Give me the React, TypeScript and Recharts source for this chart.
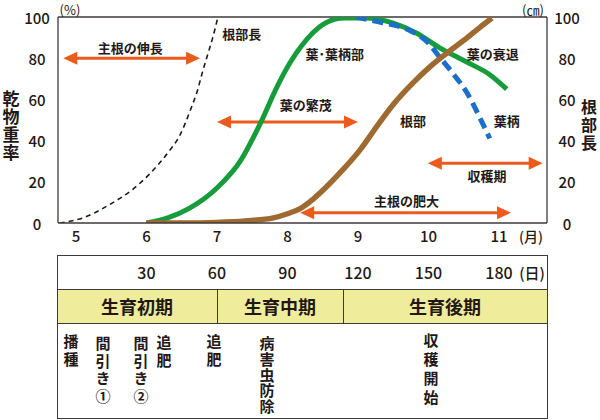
import React from "react";
import { LineChart, Line, XAxis, YAxis, ReferenceLine, ReferenceDot } from "recharts";

const FONT = "'Noto Sans CJK JP', 'Noto Sans', sans-serif";
const INK = "#231815";
const FRAME = "#3e3a39";
const ORANGE = "#eb5b1e";
const YELLOW = "#efec9c";

const monthTicks = [5, 6, 7, 8, 9, 10, 11];
const rateTicks = [0, 20, 40, 60, 80, 100];
const dayTicks = [30, 60, 90, 120, 150, 180];

// 根部長 (cm), right axis
const rootLenMonth = [4.77, 5.1, 5.48, 5.81, 6.05, 6.29, 6.48, 6.62, 6.72, 6.8, 6.87, 6.94, 7.01];
const rootLenValue = [0, 2.5, 9, 16.5, 24, 33.5, 43, 54.6, 64, 74, 82, 90, 99.5];

// 葉・葉柄部 (%)
const leafMonth = [6.0, 6.3, 6.6, 7.0, 7.33, 7.61, 7.85, 8.04, 8.2, 8.35, 8.56, 8.8, 9.1, 9.5, 9.84, 10.16, 10.55, 10.87, 11.11];
const leafValue = [0, 2.5, 7, 17, 30, 48, 66, 78, 86, 92, 97.5, 99.5, 99.5, 97, 92, 85, 78, 72, 65];

// 葉柄 (%)
const petioleMonth = [8.97, 9.31, 9.7, 9.98, 10.16, 10.35, 10.55, 10.73, 10.87];
const petioleValue = [100, 97.5, 94, 88, 80.5, 72.5, 63, 51, 41];

// 根部 (%)
const rootMonth = [6.0, 6.5, 7.0, 7.4, 7.8, 8.0, 8.18, 8.36, 8.55, 8.79, 9.03, 9.27, 9.5, 9.78, 10.06, 10.3, 10.55, 10.73, 10.9];
const rootValue = [0, 0, 0.3, 1, 2.5, 4.5, 7, 11.5, 17.5, 26, 35.5, 47, 57.5, 68, 77, 83.5, 90, 95, 99.5];

// arrows: start month, end month, level
const arrowFrom = [4.82, 7.0, 8.18, 9.99];
const arrowTo = [6.76, 9.0, 11.17, 11.62];
const arrowLevel = [80, 49, 5, 29];

// annotations in chart units
const noteText = ["主根の伸長", "根部長", "葉･葉柄部", "葉の衰退", "葉の繁茂", "根部", "葉柄", "主根の肥大", "収穫期"];
const noteMonth = [5.77, 7.35, 8.67, 10.91, 8.26, 9.78, 11.11, 9.69, 10.83];
const noteLevel = [85.4, 92.2, 82.4, 82.4, 57.6, 49.8, 49.8, 10.7, 22.9];

const pts = (xs: number[], ys: number[]) => xs.map((x, i) => ({ x, y: ys[i] }));

const X_DOMAIN: [number, number] = [4.745, 11.681];
const PLOT_LEFT = 58;
const PLOT_RIGHT = 547;
const monthToPx = (m: number) =>
  PLOT_LEFT + ((m - X_DOMAIN[0]) / (X_DOMAIN[1] - X_DOMAIN[0])) * (PLOT_RIGHT - PLOT_LEFT);

function DoubleArrow(props: any) {
  const { x1, y1, x2, y2 } = props;
  const head = 14;
  const half = 6.5;
  return (
    <g>
      <line x1={x1 + head - 2} y1={y1} x2={x2 - head + 2} y2={y2} stroke={ORANGE} strokeWidth={3} />
      <polygon points={`${x1},${y1} ${x1 + head},${y1 - half} ${x1 + head},${y1 + half}`} fill={ORANGE} />
      <polygon points={`${x2},${y2} ${x2 - head},${y2 - half} ${x2 - head},${y2 + half}`} fill={ORANGE} />
    </g>
  );
}

const MonthTick = ({ x, y, payload }: any) => (
  <text x={x} y={y + 12} textAnchor="middle" dominantBaseline="central" fontSize={15} fontWeight={500} fill={INK} fontFamily={FONT}>
    {payload.value}
  </text>
);

const SideTick = ({ x, y, payload }: any) => (
  <text x={x} y={y} textAnchor="middle" dominantBaseline="central" fontSize={15} fontWeight={500} fill={INK} fontFamily={FONT}>
    {payload.value}
  </text>
);

function Abs({ x, y, children, style }: { x: number; y: number; children: React.ReactNode; style?: React.CSSProperties }) {
  return (
    <div
      style={{
        position: "absolute",
        left: x,
        top: y,
        transform: "translate(-50%, -50%)",
        whiteSpace: "nowrap",
        lineHeight: 1,
        color: INK,
        ...style,
      }}
    >
      {children}
    </div>
  );
}

// vertical text; y is the centre of the first character
function VText({ x, y, step, text, size = 15 }: { x: number; y: number; step: number; text: string; size?: number }) {
  return (
    <div
      style={{
        position: "absolute",
        left: x,
        top: y - size / 2,
        transform: "translateX(-50%)",
        writingMode: "vertical-rl",
        textOrientation: "upright",
        whiteSpace: "nowrap",
        lineHeight: 1,
        fontSize: size,
        fontWeight: 700,
        letterSpacing: step - size,
        color: INK,
      }}
    >
      {text}
    </div>
  );
}

export default function App() {
  return (
    <div style={{ position: "absolute", left: 0, top: 0, width: 600, height: 420, background: "#fff", fontFamily: FONT, overflow: "hidden" }}>
      <div style={{ position: "absolute", left: 0, top: 0 }}>
        <LineChart width={600} height={420} margin={{ top: 17, right: 0, bottom: 0, left: 0 }}>
          <XAxis
            dataKey="x"
            type="number"
            domain={X_DOMAIN}
            allowDataOverflow
            ticks={monthTicks}
            interval={0}
            height={197}
            tickLine={false}
            tickSize={0}
            tickMargin={0}
            axisLine={{ stroke: FRAME, strokeWidth: 1.3 }}
            tick={MonthTick}
          />
          <YAxis
            yAxisId="left"
            domain={[0, 100]}
            allowDataOverflow
            ticks={rateTicks}
            interval={0}
            width={58}
            tickLine={false}
            tickSize={0}
            tickMargin={21}
            axisLine={{ stroke: FRAME, strokeWidth: 1.3 }}
            tick={SideTick}
          />
          <YAxis
            yAxisId="right"
            orientation="right"
            domain={[0, 100]}
            allowDataOverflow
            ticks={rateTicks}
            interval={0}
            width={53}
            tickLine={false}
            tickSize={0}
            tickMargin={20}
            axisLine={{ stroke: FRAME, strokeWidth: 1.3 }}
            tick={SideTick}
          />
          <ReferenceLine yAxisId="left" y={100} stroke={FRAME} strokeWidth={1.3} ifOverflow="visible" />

          {arrowFrom.map((from, i) => (
            <ReferenceLine
              key={`a${i}`}
              yAxisId="left"
              ifOverflow="visible"
              segment={[
                { x: from, y: arrowLevel[i] },
                { x: arrowTo[i], y: arrowLevel[i] },
              ]}
              shape={DoubleArrow}
            />
          ))}

          <Line
            yAxisId="right"
            data={pts(rootLenMonth, rootLenValue)}
            dataKey="y"
            type="monotone"
            stroke={INK}
            strokeWidth={1.6}
            strokeDasharray="5 4"
            dot={false}
            activeDot={false}
            isAnimationActive={false}
          />
          <Line
            yAxisId="left"
            data={pts(leafMonth, leafValue)}
            dataKey="y"
            type="monotone"
            stroke="#179c3c"
            strokeWidth={5}
            dot={false}
            activeDot={false}
            isAnimationActive={false}
          />
          <Line
            yAxisId="left"
            data={pts(petioleMonth, petioleValue)}
            dataKey="y"
            type="monotone"
            stroke="#1b6fc6"
            strokeWidth={5}
            strokeDasharray="11 6"
            dot={false}
            activeDot={false}
            isAnimationActive={false}
          />
          <Line
            yAxisId="left"
            data={pts(rootMonth, rootValue)}
            dataKey="y"
            type="monotone"
            stroke="#9e6a2f"
            strokeWidth={5.5}
            dot={false}
            activeDot={false}
            isAnimationActive={false}
          />

          {noteText.map((t, i) => (
            <ReferenceDot
              key={`n${i}`}
              yAxisId="left"
              x={noteMonth[i]}
              y={noteLevel[i]}
              r={0}
              ifOverflow="visible"
              shape={(p: any) => (
                <text
                  x={p.cx}
                  y={p.cy}
                  textAnchor="middle"
                  dominantBaseline="central"
                  fontSize={13}
                  fontWeight={700}
                  fill={INK}
                  fontFamily={FONT}
                >
                  {t}
                </text>
              )}
            />
          ))}
        </LineChart>
      </div>

      {/* units and axis titles */}
      <Abs x={70} y={9} style={{ fontSize: 13 }}>(%)</Abs>
      <Abs x={533} y={9} style={{ fontSize: 13 }}>(㎝)</Abs>
      <Abs x={531} y={236} style={{ fontSize: 14, fontWeight: 500 }}>(月)</Abs>
      <VText x={11} y={98} step={18} text="乾物重率" size={17} />
      <VText x={589} y={107} step={18} text="根部長" size={16} />

      {/* table */}
      <div
        style={{
          position: "absolute",
          left: 57,
          top: 255,
          width: 491,
          height: 164,
          border: `1.5px solid ${FRAME}`,
          boxSizing: "border-box",
        }}
      />
      <div
        style={{
          position: "absolute",
          left: 57,
          top: 289,
          width: 491,
          height: 35,
          background: YELLOW,
          border: `1.5px solid ${FRAME}`,
          boxSizing: "border-box",
        }}
      />
      <div style={{ position: "absolute", left: 216.5, top: 289, width: 1.5, height: 35, background: FRAME }} />
      <div style={{ position: "absolute", left: 342.5, top: 289, width: 1.5, height: 35, background: FRAME }} />

      {dayTicks.map((d) => (
        <Abs key={d} x={monthToPx(5 + d / 30)} y={272} style={{ fontSize: 16, fontWeight: 500 }}>
          {d}
        </Abs>
      ))}
      <Abs x={532} y={272} style={{ fontSize: 15, fontWeight: 500 }}>(日)</Abs>

      <Abs x={137} y={306} style={{ fontSize: 18, fontWeight: 700 }}>生育初期</Abs>
      <Abs x={280} y={306} style={{ fontSize: 18, fontWeight: 700 }}>生育中期</Abs>
      <Abs x={445} y={306} style={{ fontSize: 18, fontWeight: 700 }}>生育後期</Abs>

      <VText x={71} y={341} step={17.5} text="播種" />
      <VText x={103} y={343} step={17.5} text="間引き①" />
      <VText x={141} y={343} step={17.5} text="間引き②" />
      <VText x={164} y={342} step={17.5} text="追肥" />
      <VText x={214} y={341} step={17.5} text="追肥" />
      <VText x={267} y={343} step={15.7} text="病害虫防除" />
      <VText x={431} y={340} step={19} text="収穫開始" />
    </div>
  );
}
